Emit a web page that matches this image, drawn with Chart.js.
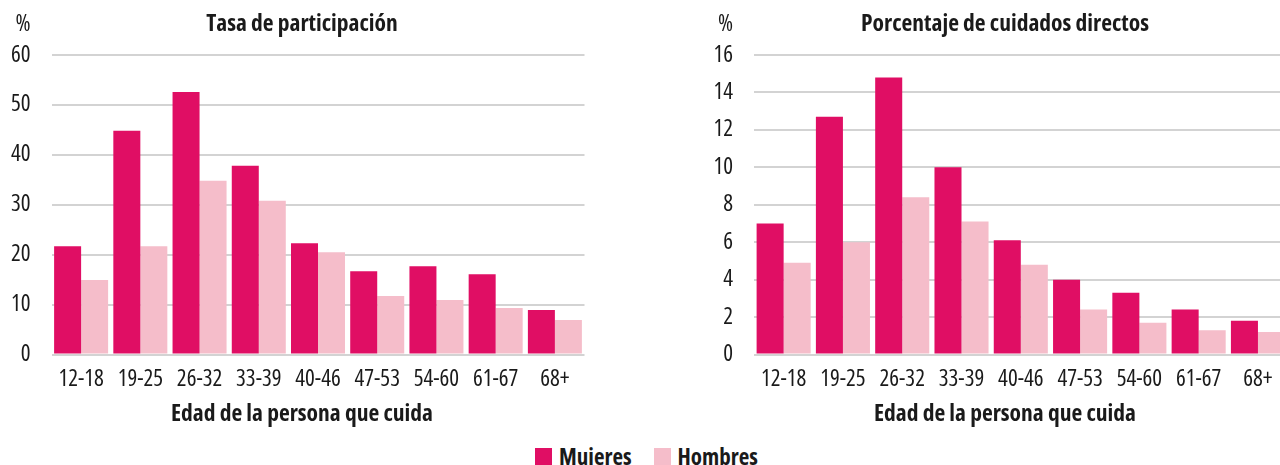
<!DOCTYPE html>
<html lang="es">
<head>
<meta charset="utf-8">
<title>Tasa de participación y porcentaje de cuidados directos</title>
<script src="https://cdn.jsdelivr.net/npm/chart.js@4/dist/chart.umd.min.js"></script>
<style>
  html, body { margin: 0; padding: 0; background: #fff; }
  body { width: 1280px; height: 465px; overflow: hidden; position: relative; }
  canvas { position: absolute; top: 0; }
  #left { left: 2px; }
  #right { left: 700px; }
  #legend {
    position: absolute; left: 535px; top: 440px;
    display: flex; align-items: center;
    font-family: "Open Sans", sans-serif; font-stretch: semi-condensed;
    font-weight: bold; font-size: 23px; color: #1a1a1a;
  }
  #legend .item { display: flex; align-items: center; margin-right: 22px; }
  #legend .box { width: 17px; height: 17px; margin-right: 7px; }
</style>
</head>
<body>
<canvas id="left" width="600" height="440"></canvas>
<canvas id="right" width="610" height="440"></canvas>
<div id="legend"></div>

<script>
const categories = ["12-18", "19-25", "26-32", "33-39", "40-46", "47-53", "54-60", "61-67", "68+"];
const seriesNames = ["Mujeres", "Hombres"];
const seriesColors = ["#E00E64", "#F5BDCA"];

// Tasa de participación (%)
const participacionMujeres = [21.7, 44.8, 52.6, 37.8, 22.3, 16.7, 17.7, 16.1, 8.9];
const participacionHombres = [14.9, 21.7, 34.8, 30.8, 20.5, 11.7, 10.9, 9.3, 6.9];

// Porcentaje de cuidados directos (%)
const cuidadosMujeres = [7.0, 12.7, 14.8, 10.0, 6.1, 4.0, 3.3, 2.4, 1.8];
const cuidadosHombres = [4.9, 6.0, 8.4, 7.1, 4.8, 2.4, 1.7, 1.3, 1.2];

const FONT = '"Open Sans", sans-serif';
const SIZE = 23;
const TITLE_SIZE = 23.5;
// Chart.js only checks font.style, so the width keyword rides along with the weight
const REGULAR = "normal semi-condensed";
const BOLD = "bold semi-condensed";
const TEXT = "#1a1a1a";
const GRID = "#d3d3d3";
const TICK_PAD = 21;

Chart.defaults.font.family = FONT;
Chart.defaults.font.size = SIZE;
Chart.defaults.font.weight = REGULAR;
Chart.defaults.color = TEXT;

// panel title, axis title and the "%" unit; titles are centred on the whole canvas
const panelText = {
  id: "panelText",
  afterDraw(chart, args, opts) {
    const ctx = chart.ctx;
    const mid = chart.width / 2;
    ctx.save();
    ctx.fillStyle = TEXT;
    ctx.textBaseline = "middle";

    ctx.textAlign = "right";
    ctx.font = REGULAR + " " + SIZE + "px " + FONT;
    ctx.fillText("%", chart.scales.y.right - TICK_PAD, 24);

    ctx.textAlign = "center";
    ctx.font = BOLD + " " + TITLE_SIZE + "px " + FONT;
    ctx.fillText(opts.title, mid, 24);
    ctx.fillText(opts.axisTitle, mid, 414);
    ctx.restore();
  }
};

function makeChart(id, title, mujeres, hombres, max, step, axisWidth, padRight) {
  return new Chart(document.getElementById(id), {
    type: "bar",
    data: {
      labels: categories,
      datasets: [
        { label: seriesNames[0], data: mujeres, backgroundColor: seriesColors[0] },
        { label: seriesNames[1], data: hombres, backgroundColor: seriesColors[1] }
      ]
    },
    options: {
      responsive: false,
      animation: false,
      layout: { padding: { left: 0, right: padRight, top: 55, bottom: 39.2 } },
      datasets: {
        bar: { barPercentage: 1, categoryPercentage: 0.912, borderWidth: 0 }
      },
      plugins: {
        legend: { display: false },
        tooltip: { enabled: false },
        panelText: { title: title, axisTitle: "Edad de la persona que cuida" }
      },
      scales: {
        x: {
          grid: { display: false, drawTicks: false },
          border: { display: false },
          ticks: { padding: 10.7, maxRotation: 0, autoSkip: false },
          afterFit(scale) { scale.height = 46.3; }
        },
        y: {
          min: 0,
          max: max,
          grid: { color: GRID, lineWidth: 2, drawTicks: false },
          border: { display: false },
          ticks: { stepSize: step, padding: TICK_PAD },
          afterFit(scale) { scale.width = axisWidth; }
        }
      }
    },
    plugins: [panelText]
  });
}

makeChart("left", "Tasa de participación", participacionMujeres, participacionHombres, 60, 10, 49.5, 17.5);
makeChart("right", "Porcentaje de cuidados directos", cuidadosMujeres, cuidadosHombres, 16, 2, 54, 22.4);

// shared legend for both panels
const legend = document.getElementById("legend");
seriesNames.forEach((name, i) => {
  const item = document.createElement("div");
  item.className = "item";
  const box = document.createElement("span");
  box.className = "box";
  box.style.background = seriesColors[i];
  const label = document.createElement("span");
  label.textContent = name;
  item.appendChild(box);
  item.appendChild(label);
  legend.appendChild(item);
});
</script>
</body>
</html>
